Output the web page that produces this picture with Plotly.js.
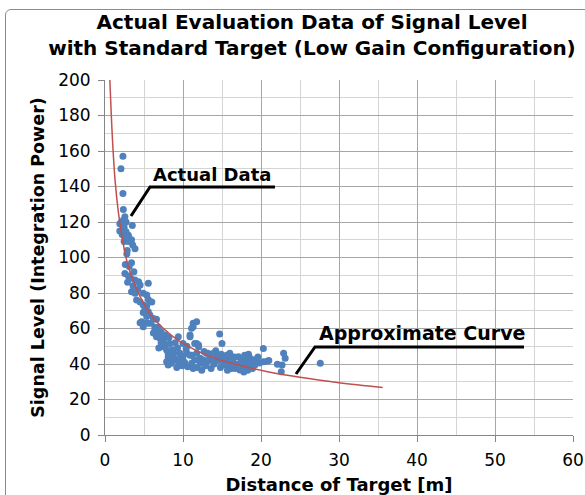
<!DOCTYPE html>
<html>
<head>
<meta charset="utf-8">
<script src="https://cdn.plot.ly/plotly-3.0.1.min.js"></script>
<style>
html,body{margin:0;padding:0;background:#fff;}
#wrap{position:relative;width:585px;height:495px;overflow:hidden;}
#frame{position:absolute;left:5px;top:9px;width:600px;height:520px;border:1px solid #8c8c8c;border-radius:6px;box-sizing:border-box;}
#chart{position:absolute;left:0;top:0;width:585px;height:495px;}
</style>
</head>
<body>
<div id="wrap"><div id="frame"></div><div id="chart"></div></div>
<script>
// Measured scatter points (distance [m], signal level)
const dataX = [2.3,2.05,2.3,2.35,2.55,2.35,2.1,1.9,2.7,3.5,2.45,1.9,2.7,2.2,2.5,3.0,3.4,2.45,3.0,3.55,3.85,2.85,2.8,3.4,2.55,3.0,3.3,3.85,4.3,4.5,5.55,3.4,3.85,4.9,5.35,4.05,4.5,5.55,6.0,4.9,5.35,5.1,4.9,5.55,5.75,5.35,6.2,6.6,4.7,5.1,4.5,4.9,5.55,6.4,6.8,6.4,6.6,6.8,7.05,7.7,7.5,7.7,8.3,9.4,7.5,7.9,8.8,8.1,8.3,8.1,7.9,8.5,8.1,8.8,9.4,9.6,9.8,10.0,10.5,10.9,11.1,11.5,11.1,9.6,11.3,11.1,11.75,11.3,10.9,10.9,11.75,10.0,11.5,12.0,12.0,11.75,12.2,12.6,13.2,13.0,13.9,14.3,15.0,15.8,15.4,16.2,17.1,17.5,17.9,18.6,19.4,20.3,16.7,17.3,17.9,18.6,13.9,12.6,12.2,15.6,19.0,14.7,15.0,20.3,19.4,22.9,23.1,22.1,22.7,22.6,27.6,9.0,9.2,10.2,10.6,11.8,12.9,13.4,13.6,14.0,14.6,14.8,15.2,15.9,16.4,16.6,16.9,17.6,18.1,18.3,18.9,19.2,19.8,20.8,16.0,14.2,12.7,10.4,9.3,8.6,21.0,9.9,11.3,12.4,15.7,17.8,13.1,16.3,19.6,18.4,14.9,7.2,6.2,5.9,4.2,3.7,3.1,2.6,2.9,3.6,6.9,8.2,7.2,10.5,9.0];
const dataY = [157,150,136,127,123,121,120,119,120,118,117,115,114.5,113,112,112.5,110,109,109,107,105,104,102,97,91,89.6,88.3,87.3,86.4,84.5,85.5,80.7,79.8,79.8,78.9,76,75,76.4,75,73.2,72.7,70.4,69,69.5,67.6,66.7,65.7,65.2,63.8,62.9,63.3,61,62.9,60.7,60.7,59.2,55.4,56.3,54.5,56.3,53.5,50.7,51.6,55.4,49.7,47.9,46,46,44.1,44,41.3,40.4,39.4,42.3,41.3,46,44.1,44.1,46,45,45,42.3,40.4,40.4,62.9,60.1,63.8,61,56.3,55.4,51.6,51.6,51.6,49.7,50.7,46,43.2,40.4,46,46,46,44.1,43.2,42.3,39.4,37.5,44.1,42.3,45,43.2,41.3,48.8,37.5,36.6,38.5,39.4,41.3,42.3,40.4,45,42.3,56.9,51.5,41.3,42.6,46,43.2,39.8,39.4,35.7,40.4,43,38,41,38.5,38,39,43,37.5,40,42,38,41,39,41,44,40,39.8,41.5,36.5,37.5,39.5,40.5,41.5,46,47.5,47,48.5,49,48,42,39,37.5,36.5,36.5,35.5,41.5,43,44,45.5,45.5,52,57.5,63,82,92,95,96,86,84,49,55,58,50,52];

// Approximate curve
const curveX = [0.62,0.8,1.0,1.3,1.7,2.2,2.8,3.5,4.5,5.8,7.5,9.5,12,15,18,21,25,30,35.6];
const curveY = [200,181,163,143,126,111,98,88,78,68,60,53,47,42,38.5,35.5,32.5,29.5,26.8];

const xTicks = [0,10,20,30,40,50,60];
const yTicks = [0,20,40,60,80,100,120,140,160,180,200];

const chartTitle = 'Actual Evaluation Data of Signal Level<br>with Standard Target (Low Gain Configuration)';
const xTitle = 'Distance of Target [m]';
const yTitle = 'Signal Level (Integration Power)';
const labelData = 'Actual Data';
const labelCurve = 'Approximate Curve';

const FONT = 'DejaVu Sans, Verdana, sans-serif';

const traces = [
  {x: dataX, y: dataY, type: 'scatter', mode: 'markers',
   marker: {color: '#4F81BD', size: 7, line: {width: 0}}, hoverinfo: 'skip'},
  {x: curveX, y: curveY, type: 'scatter', mode: 'lines',
   line: {color: '#C0504D', width: 1.5, shape: 'spline'}, hoverinfo: 'skip'}
];

function px(X){return (X-105)/468;}
function py(Y){return (435-Y)/355;}

const layout = {
  width: 585, height: 495,
  margin: {l: 105, r: 12, t: 80, b: 60},
  paper_bgcolor: 'rgba(0,0,0,0)',
  plot_bgcolor: '#fff',
  showlegend: false,
  font: {family: FONT, color: '#000', size: 17},
  title: {text: chartTitle, x: 312/585, xanchor: 'center', y: 1 - 29/495, yanchor: 'top',
          font: {family: FONT, size: 20, color: '#000', weight: 'bold'}},
  xaxis: {
    range: [0, 60], tickvals: xTicks, ticktext: xTicks.map(String),
    showgrid: true, gridcolor: '#a6a6a6', gridwidth: 1,
    minor: {dtick: 5, showgrid: true, gridcolor: '#d4d4d4', ticks: ''},
    showline: true, linecolor: '#868686', linewidth: 1,
    ticks: 'outside', ticklen: 6, tickcolor: '#868686',
    ticklabelstandoff: 4,
    zeroline: false, fixedrange: true,
    tickfont: {family: FONT, size: 17, color: '#000'},
    title: {text: xTitle, standoff: 11, font: {family: FONT, size: 18, color: '#000', weight: 'bold'}}
  },
  yaxis: {
    range: [0, 200], tickvals: yTicks, ticktext: yTicks.map(String),
    showgrid: true, gridcolor: '#a6a6a6', gridwidth: 1,
    minor: {dtick: 10, showgrid: true, gridcolor: '#d4d4d4', ticks: ''},
    showline: true, linecolor: '#868686', linewidth: 1,
    ticks: 'outside', ticklen: 6, tickcolor: '#868686',
    ticklabelstandoff: 4,
    zeroline: false, fixedrange: true,
    tickfont: {family: FONT, size: 17, color: '#000'},
    title: {text: yTitle, standoff: 9, font: {family: FONT, size: 17.5, color: '#000', weight: 'bold'}}
  },
  annotations: [
    {text: labelData, xref: 'paper', yref: 'paper', x: px(151), y: py(174),
     xanchor: 'left', yanchor: 'middle', showarrow: false,
     font: {family: FONT, size: 18, color: '#000', weight: 'bold'}},
    {text: labelCurve, xref: 'paper', yref: 'paper', x: px(317), y: py(333),
     xanchor: 'left', yanchor: 'middle', showarrow: false,
     font: {family: FONT, size: 19, color: '#000', weight: 'bold'}}
  ],
  shapes: [
    {type: 'path', xref: 'paper', yref: 'paper',
     path: 'M ' + px(131) + ' ' + py(216) + ' L ' + px(150) + ' ' + py(187) + ' L ' + px(275) + ' ' + py(187),
     line: {color: '#000', width: 3}},
    {type: 'path', xref: 'paper', yref: 'paper',
     path: 'M ' + px(296) + ' ' + py(374) + ' L ' + px(315) + ' ' + py(347) + ' L ' + px(524) + ' ' + py(347),
     line: {color: '#000', width: 3}}
  ]
};

Plotly.newPlot('chart', traces, layout, {displayModeBar: false, staticPlot: true});
</script>
</body>
</html>
